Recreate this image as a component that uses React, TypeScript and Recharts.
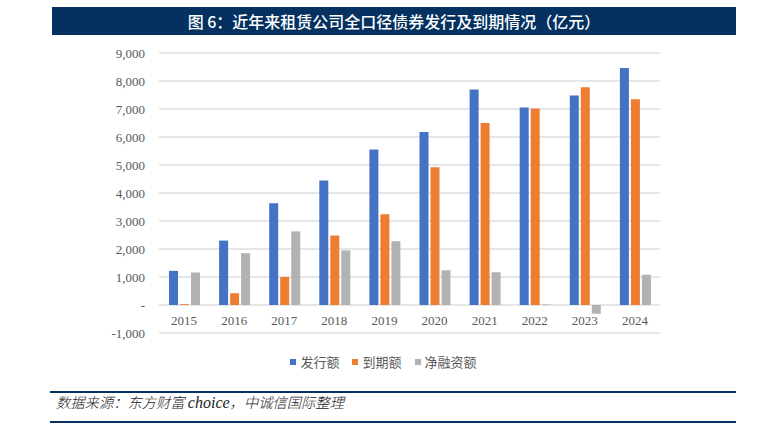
import React from "react";
import { BarChart, Bar, XAxis, YAxis, CartesianGrid } from "recharts";

// 亿元
const years = ["2015", "2016", "2017", "2018", "2019", "2020", "2021", "2022", "2023", "2024"];
const issued = [1220, 2300, 3630, 4450, 5550, 6180, 7700, 7050, 7480, 8460];
const matured = [30, 420, 1000, 2480, 3240, 4920, 6500, 7020, 7780, 7350];
const netFinancing = [1160, 1850, 2630, 1950, 2280, 1240, 1170, 20, -310, 1080];
const yTicks = [-1000, 0, 1000, 2000, 3000, 4000, 5000, 6000, 7000, 8000, 9000];

const data = years.map((year, i) => ({
  year,
  issued: issued[i],
  matured: matured[i],
  net: netFinancing[i],
}));

const NAVY = "#04315f";
const SERIF = '"Liberation Serif", "Times New Roman", serif';
const CJK = '"Noto Sans CJK SC", "Noto Sans", sans-serif';

const series = [
  { key: "issued", name: "发行额", color: "#4472C4" },
  { key: "matured", name: "到期额", color: "#ED7D31" },
  { key: "net", name: "净融资额", color: "#B2B2B2" },
];

const fmt = (v: number) => (v === 0 ? "-" : v.toLocaleString("en-US"));

const YearTick = (props: any) => {
  const { x, y, payload } = props;
  return (
    <text x={x} y={y - 16} textAnchor="middle" fill="#595959" fontSize={13} fontFamily={SERIF}>
      {payload.value}
    </text>
  );
};

export default function App() {
  return (
    <div style={{ position: "relative", width: 765, height: 425, background: "#fff" }}>
      <style>{"body{margin:0}"}</style>
      <div
        style={{
          position: "absolute",
          left: 52,
          top: 7,
          width: 684,
          height: 28,
          background: NAVY,
          color: "#fff",
          fontFamily: CJK,
          fontWeight: 500,
          fontSize: 16,
          lineHeight: "28px",
          textAlign: "center",
        }}
      >
        图 6：近年来租赁公司全口径债券发行及到期情况（亿元）
      </div>

      <div style={{ position: "absolute", left: 0, top: 0 }}>
        <BarChart
          width={765}
          height={425}
          data={data}
          margin={{ top: 53, right: 105, bottom: 62, left: 0 }}
          barSize={9}
          barGap={2}
        >
          <CartesianGrid vertical={false} stroke="#dedede" strokeWidth={1.5} />
          <XAxis dataKey="year" height={30} axisLine={false} tickLine={false} tick={<YearTick />} interval={0} />
          <YAxis
            width={159}
            domain={[-1000, 9000]}
            ticks={yTicks}
            interval={0}
            axisLine={false}
            tickLine={false}
            tickMargin={8}
            tickFormatter={fmt}
            tick={{ fill: "#595959", fontSize: 13, fontFamily: SERIF }}
          />
          {series.map((s) => (
            <Bar key={s.key} dataKey={s.key} name={s.name} fill={s.color} isAnimationActive={false} />
          ))}
        </BarChart>
      </div>

      <div
        style={{
          position: "absolute",
          top: 352,
          left: 0,
          width: 765,
          display: "flex",
          justifyContent: "center",
          paddingLeft: 15,
          boxSizing: "border-box",
          fontFamily: CJK,
          fontSize: 13,
          lineHeight: "20px",
          color: "#595959",
        }}
      >
        {series.map((s) => (
          <div key={s.key} style={{ display: "flex", alignItems: "center", marginRight: 13 }}>
            <span style={{ width: 6, height: 6, background: s.color, marginRight: 4, display: "inline-block" }} />
            <span>{s.name}</span>
          </div>
        ))}
      </div>

      <div style={{ position: "absolute", left: 50, top: 391, width: 686, height: 2, background: NAVY }} />
      <div
        style={{
          position: "absolute",
          left: 56,
          top: 392,
          height: 20,
          lineHeight: "20px",
          fontFamily: CJK,
          fontStyle: "italic",
          fontWeight: 300,
          fontSize: 14.3,
          color: "#222",
        }}
      >
        数据来源：东方财富 <span style={{ fontFamily: SERIF, fontSize: 16 }}>choice</span>，中诚信国际整理
      </div>
      <div style={{ position: "absolute", left: 50, top: 421, width: 686, height: 2, background: NAVY }} />
    </div>
  );
}
